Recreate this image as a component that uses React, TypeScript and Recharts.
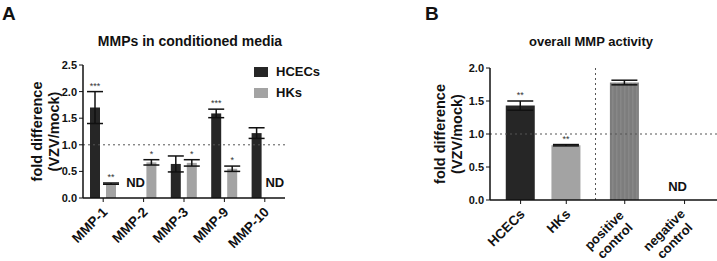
import { Bar, BarChart, ErrorBar, LabelList, Legend, ReferenceDot, ReferenceLine, XAxis, YAxis } from "recharts";

const FONT = '"Liberation Sans", Arial, sans-serif';

// panel A: MMPs in conditioned media
const mmpCategories = ["MMP-1", "MMP-2", "MMP-3", "MMP-9", "MMP-10"];
const hcecValues = [1.7, 0, 0.64, 1.59, 1.22];
const hcecErrors = [0.3, null, 0.15, 0.08, 0.1];
const hcecMarks = ["***", "ND", "", "***", ""];
const hkValues = [0.27, 0.67, 0.66, 0.55, 0];
const hkErrors = [0.012, 0.05, 0.06, 0.05, null];
const hkMarks = ["**", "*", "*", "*", "ND"];
const mmpTicks = [0, 0.5, 1, 1.5, 2, 2.5];

// panel B: overall MMP activity
const activityLabels = [["HCECs"], ["HKs"], ["positive", "control"], ["negative", "control"]];
const activityPositions = [1, 2, 3.28, 4.59];
const activityValues = [1.43, 0.83, 1.78, 0];
const activityErrors = [0.07, 0.01, 0.035, null];
const activityMarks = ["**", "**", "", "ND"];
const activityColors = ["#262626", "#a3a3a3", "url(#stripes)", "#ffffff"];
const activityTicks = [0, 0.5, 1, 1.5, 2];

const mmpData = mmpCategories.map((name, i) => ({
  name,
  hcec: hcecValues[i],
  hcecErr: hcecErrors[i],
  hk: hkValues[i],
  hkErr: hkErrors[i],
}));

const activityData = activityPositions.map((pos, i) => ({
  pos,
  value: activityValues[i],
  err: activityErrors[i],
  fill: activityColors[i],
}));

function ndText(x: number, y: number) {
  return (
    <text x={x} y={y} textAnchor="middle" fontSize={13} fontWeight="bold" fill="#111" fontFamily={FONT}>
      ND
    </text>
  );
}

// stars above the error bars; keyed by category so zero-height bars don't shift things
function makeStarLabel(keys: (string | number)[], values: number[], marks: string[], errors: (number | null)[]) {
  return (props: any) => {
    const { x, y, width, height, value } = props;
    const i = keys.indexOf(value);
    const mark = marks[i];
    if (!mark || mark === "ND") return null;
    const perUnit = values[i] > 0 ? Number(height) / values[i] : 0;
    const top = Number(y) - (errors[i] ?? 0) * perUnit;
    return (
      <text x={Number(x) + Number(width) / 2} y={top - 3} textAnchor="middle" fontSize={9} fill="#333" fontFamily={FONT}>
        {mark}
      </text>
    );
  };
}

function ndLabel(dx: number, dy: number) {
  return (props: any) => {
    const vb = props.viewBox;
    return ndText(vb.x + vb.width / 2 + dx, vb.y + vb.height / 2 + dy);
  };
}

function YTitle(dx1: number, dx2: number) {
  return (props: any) => {
    const vb = props.viewBox;
    const cy = vb.y + vb.height / 2;
    return (
      <g fontFamily={FONT} fontWeight="bold" fontSize={14.5} fill="#111">
        <text x={vb.x + dx1} y={cy} transform={`rotate(-90 ${vb.x + dx1} ${cy})`} textAnchor="middle" dominantBaseline="central">
          fold difference
        </text>
        <text x={vb.x + dx2} y={cy} transform={`rotate(-90 ${vb.x + dx2} ${cy})`} textAnchor="middle" dominantBaseline="central">
          (VZV/mock)
        </text>
      </g>
    );
  };
}

function RotatedTick(props: any) {
  const { x, y, payload, lines, nd } = props;
  const rows: string[] = lines ? lines(payload.value) : [String(payload.value)];
  // "not detected" marks sit just above the axis, in the slot of the missing bar
  const ndMarks = nd ? (nd(payload.value) as number[]) : [];
  const ndNodes = ndMarks.map((dx, k) => <g key={`nd${k}`}>{ndText(x + dx, y - 17)}</g>);
  if (rows.length === 1) {
    return (
      <g>
        {ndNodes}
        <g transform={`translate(${x + 5},${y + 9})`}>
          <text transform="rotate(-45)" textAnchor="end" fontSize={13.5} fontWeight="bold" fill="#111" fontFamily={FONT}>
            {rows[0]}
          </text>
        </g>
      </g>
    );
  }
  return (
    <g transform={`translate(${x + 1},${y + 9})`}>
      <text transform="rotate(-45)" textAnchor="middle" fontSize={13} fontWeight="bold" fill="#111" fontFamily={FONT}>
        {rows.map((r, i) => (
          <tspan key={r} x={-26} dy={i === 0 ? 0 : 15}>
            {r}
          </tspan>
        ))}
      </text>
    </g>
  );
}

const mmpNd = (cat: string) => {
  const i = mmpCategories.indexOf(cat);
  const out: number[] = [];
  if (hcecMarks[i] === "ND") out.push(-8);
  if (hkMarks[i] === "ND") out.push(10);
  return out;
};

const tickStyle = { fontSize: 11, fontWeight: "bold", fill: "#111", fontFamily: FONT };
const axisLine = { stroke: "#111", strokeWidth: 1.5 };

function MmpLegend() {
  const items = [
    { name: "HCECs", color: "#262626" },
    { name: "HKs", color: "#a3a3a3" },
  ];
  return (
    <div style={{ fontFamily: FONT }}>
      {items.map((it) => (
        <div key={it.name} style={{ display: "flex", alignItems: "center", height: 21 }}>
          <span style={{ width: 14, height: 10, background: it.color, marginRight: 8 }} />
          <span style={{ fontSize: 13, fontWeight: "bold", color: "#111" }}>{it.name}</span>
        </div>
      ))}
    </div>
  );
}

export default function App() {
  return (
    <div style={{ position: "absolute", left: 0, top: 0, width: 717, height: 261, background: "#fff", fontFamily: FONT, overflow: "hidden" }}>
      <div style={{ position: "absolute", left: 2, top: 3, fontSize: 19, fontWeight: "bold", color: "#111" }}>A</div>
      <div style={{ position: "absolute", left: 425, top: 3, fontSize: 19, fontWeight: "bold", color: "#111" }}>B</div>
      <div style={{ position: "absolute", left: 40, width: 300, top: 33, textAlign: "center", fontSize: 14, fontWeight: "bold", color: "#111" }}>
        MMPs in conditioned media
      </div>
      <div style={{ position: "absolute", left: 491, width: 200, top: 34, textAlign: "center", fontSize: 13, fontWeight: "bold", color: "#111" }}>
        overall MMP activity
      </div>

      <div style={{ position: "absolute", left: 0, top: 0 }}>
        <BarChart width={300} height={261} data={mmpData} margin={{ top: 65, right: 15, bottom: 8, left: 23 }} barSize={10} barGap={6}>
          <XAxis dataKey="name" height={55} axisLine={axisLine} tickLine={{ stroke: "#111" }} tickSize={4} interval={0} tick={<RotatedTick nd={mmpNd} />} />
          <YAxis
            width={60}
            domain={[0, 2.5]}
            ticks={mmpTicks}
            tickFormatter={(v: number) => v.toFixed(1)}
            axisLine={axisLine}
            tickLine={{ stroke: "#111" }}
            tickSize={4}
            tick={tickStyle}
            label={{ content: YTitle(14, 31) }}
          />
          <ReferenceLine y={1} stroke="#555" strokeDasharray="2 3" />
          <Legend layout="vertical" align="center" verticalAlign="middle" content={<MmpLegend />} wrapperStyle={{ position: "absolute", left: 254, top: 61, width: 90 }} />
          <Bar dataKey="hcec" name="HCECs" fill="#262626" isAnimationActive={false}>
            <ErrorBar dataKey="hcecErr" width={8} stroke="#111" strokeWidth={1.5} />
            <LabelList dataKey="name" content={makeStarLabel(mmpCategories, hcecValues, hcecMarks, hcecErrors)} />
          </Bar>
          <Bar dataKey="hk" name="HKs" fill="#a3a3a3" isAnimationActive={false}>
            <ErrorBar dataKey="hkErr" width={8} stroke="#111" strokeWidth={1.5} />
            <LabelList dataKey="name" content={makeStarLabel(mmpCategories, hkValues, hkMarks, hkErrors)} />
          </Bar>
        </BarChart>
      </div>

      <div style={{ position: "absolute", left: 360, top: 0 }}>
        <BarChart width={357} height={261} data={activityData} margin={{ top: 68, right: 0, bottom: 8, left: 70 }} barSize={29}>
          <defs>
            <pattern id="stripes" width="4" height="4" patternUnits="userSpaceOnUse">
              <rect width="4" height="4" fill="#7d7d7d" />
              <rect width="1.5" height="4" fill="#878787" />
            </pattern>
          </defs>
          <XAxis
            dataKey="pos"
            type="number"
            domain={[0.33, 5.3]}
            ticks={activityPositions}
            height={53}
            axisLine={axisLine}
            tickLine={{ stroke: "#111" }}
            tickSize={4}
            interval={0}
            tick={<RotatedTick lines={(v: number) => activityLabels[activityPositions.indexOf(v)] ?? [String(v)]} />}
          />
          <YAxis
            width={60}
            domain={[0, 2]}
            ticks={activityTicks}
            tickFormatter={(v: number) => v.toFixed(1)}
            axisLine={axisLine}
            tickLine={{ stroke: "#111" }}
            tickSize={4}
            tick={tickStyle}
            label={{ content: YTitle(10, 27) }}
          />
          <ReferenceLine y={1} stroke="#555" strokeDasharray="2 3" />
          <ReferenceLine x={(activityPositions[1] + activityPositions[2]) / 2} stroke="#555" strokeDasharray="2 3" />
          <Bar dataKey="value" isAnimationActive={false}>
            <ErrorBar dataKey="err" width={13} stroke="#111" strokeWidth={1.5} />
            <LabelList dataKey="pos" content={makeStarLabel(activityPositions, activityValues, activityMarks, activityErrors)} />
          </Bar>
          {activityPositions.map((p, i) =>
            activityMarks[i] === "ND" ? (
              <ReferenceDot key={p} x={p} y={0} r={1} fill="none" stroke="none" label={{ content: ndLabel(-7, -9) }} />
            ) : null
          )}
        </BarChart>
      </div>
    </div>
  );
}
